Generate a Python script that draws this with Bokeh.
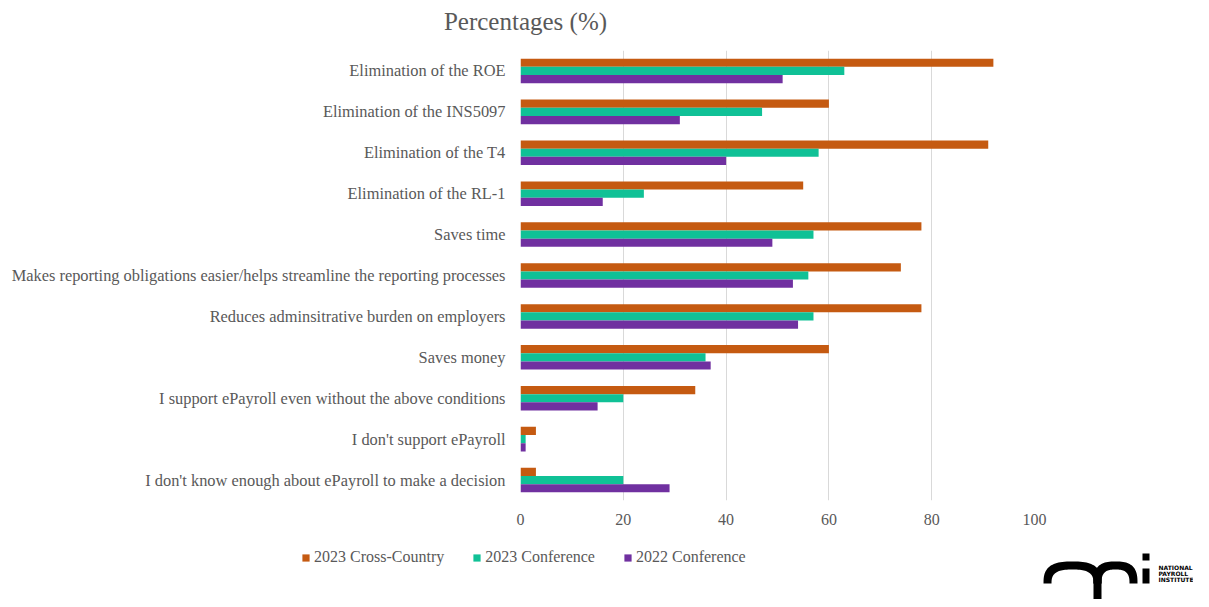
import numpy as np
from bokeh.plotting import figure
from bokeh.layouts import column
from bokeh.models import (FactorRange, Range1d, FixedTicker, Legend, LegendItem,
                          ColumnDataSource)
from bokeh.core.properties import value
from bokeh.transform import dodge
from bokeh.embed import file_html
from bokeh.resources import INLINE

categories = [
    "Elimination of the ROE",
    "Elimination of the INS5097",
    "Elimination of the T4",
    "Elimination of the RL-1",
    "Saves time",
    "Makes reporting obligations easier/helps streamline the reporting processes",
    "Reduces adminsitrative burden on employers",
    "Saves money",
    "I support ePayroll even without the above conditions",
    "I don't support ePayroll",
    "I don't know enough about ePayroll to make a decision",
]
cross_country_2023 = [92, 60, 91, 55, 78, 74, 78, 60, 34, 3, 3]
conference_2023 = [63, 47, 58, 24, 57, 56, 57, 36, 20, 1, 20]
conference_2022 = [51, 31, 40, 16, 49, 53, 54, 37, 15, 1, 29]
series_names = ["2023 Cross-Country", "2023 Conference", "2022 Conference"]
series_colors = ["#C55A11", "#10C196", "#7030A0"]
x_ticks = [0, 20, 40, 60, 80, 100]
title_text = "Percentages (%)"
logo_lines = ["NATIONAL", "PAYROLL", "INSTITUTE"]

SERIF = "Liberation Serif"
GRAY = "#595959"
W = 1193
TOP_H, MAIN_H, BOT_H = 50, 490, 59


def blank_fig(h, y0, y1):
    f = figure(width=W, height=h, x_range=Range1d(0, W), y_range=Range1d(y1, y0),
               output_backend="svg", toolbar_location=None,
               x_axis_location=None, y_axis_location=None,
               min_border=0, min_border_left=0, min_border_right=0,
               min_border_top=0, min_border_bottom=0)
    f.outline_line_color = None
    f.xgrid.visible = False
    f.ygrid.visible = False
    f.frame_align = False
    return f


# ---- title strip (coordinates = page pixels) ----
top = blank_fig(TOP_H, 0, TOP_H)
top.text(x=[525], y=[21], text=[title_text], text_align="center",
         text_baseline="middle", text_font=value(SERIF), text_font_size="25px",
         text_color=GRAY)

# ---- main chart ----
p = figure(width=W, height=MAIN_H,
           y_range=FactorRange(factors=categories[::-1]),
           x_range=Range1d(0, 100),
           output_backend="svg", toolbar_location=None,
           min_border_left=520, min_border_right=W - 520 - 514,
           min_border_top=0, min_border_bottom=40)
p.outline_line_color = None
p.frame_align = False

src = ColumnDataSource(dict(cat=categories, a=cross_country_2023,
                            b=conference_2023, c=conference_2022))
for col, off, color in zip(["a", "b", "c"], [0.2, 0.0, -0.2], series_colors):
    p.hbar(y=dodge("cat", off, range=p.y_range), right=col, left=0,
           height=0.2, source=src, fill_color=color, line_color=None)

p.ygrid.grid_line_color = None
p.xgrid.grid_line_color = "#d9d9d9"
p.xgrid.grid_line_width = 1
p.xaxis.ticker = FixedTicker(ticks=x_ticks)

for ax in (p.xaxis[0], p.yaxis[0]):
    ax.axis_line_color = None
    ax.major_tick_line_color = None
    ax.minor_tick_line_color = None
    ax.major_tick_out = 0
    ax.major_tick_in = 0
    ax.minor_tick_out = 0
    ax.major_label_text_font = SERIF
    ax.major_label_text_color = GRAY

p.xaxis.major_label_text_font_size = "16px"
p.xaxis.major_label_standoff = 13
p.yaxis.major_label_text_font_size = "16.4px"
p.yaxis.major_label_standoff = 15

# ---- bottom strip: legend + logo (coordinates = page pixels) ----
Y0 = TOP_H + MAIN_H
bot = blank_fig(BOT_H, Y0, Y0 + BOT_H)
# zero-size proxy renderers that only supply the legend swatches
legend_renderers = [bot.hbar(y=[0], left=[0], right=[0], height=0,
                             fill_color=c, line_color=None)
                    for c in series_colors]
legend = Legend(
    items=[LegendItem(label=n, renderers=[r]) for n, r in zip(series_names, legend_renderers)],
    orientation="horizontal", location=(301, BOT_H - (557 - Y0) - 10),
    glyph_width=9, glyph_height=9, label_standoff=4, spacing=28,
    padding=0, margin=0, label_height=20,
    label_text_font=SERIF, label_text_font_size="16px", label_text_color=GRAY,
    background_fill_alpha=0, border_line_color=None)
bot.add_layout(legend)


def arch(x0, x1, top_y, base, t, n=2.8, k=48):
    cx = (x0 + x1) / 2
    rx = (x1 - x0) / 2
    ry = base - top_y
    th = np.linspace(0, np.pi, k)
    c = np.cos(th)
    s = np.sin(th)
    ox = cx + rx * np.sign(c) * np.abs(c) ** (2 / n)
    oy = base - ry * np.abs(s) ** (2 / n)
    ix = cx + (rx - t) * np.sign(c) * np.abs(c) ** (2 / n)
    iy = base - (ry - t) * np.abs(s) ** (2 / n)
    return list(np.concatenate([ox, ix[::-1]])), list(np.concatenate([oy, iy[::-1]]))


def rect(x0, x1, y0, y1):
    return [x0, x1, x1, x0], [y0, y0, y1, y1]


shapes = [arch(1043, 1101, 561, 583, 8), arch(1093, 1137, 561, 583, 8),
          rect(1093, 1101, 575, 610), rect(1142, 1149, 568, 583),
          rect(1142, 1149, 553, 560)]
bot.patches(xs=[s[0] for s in shapes], ys=[s[1] for s in shapes],
            fill_color="black", line_color=None)
bot.text(x=[1158] * 3, y=[567, 573, 579], text=logo_lines, text_align="left",
         text_baseline="middle", text_font=value("DejaVu Sans"),
         text_font_style="bold", text_font_size="6px", text_color="black")

layout = column(top, p, bot, spacing=0)
open("out.html", "w").write(file_html(layout, INLINE))
